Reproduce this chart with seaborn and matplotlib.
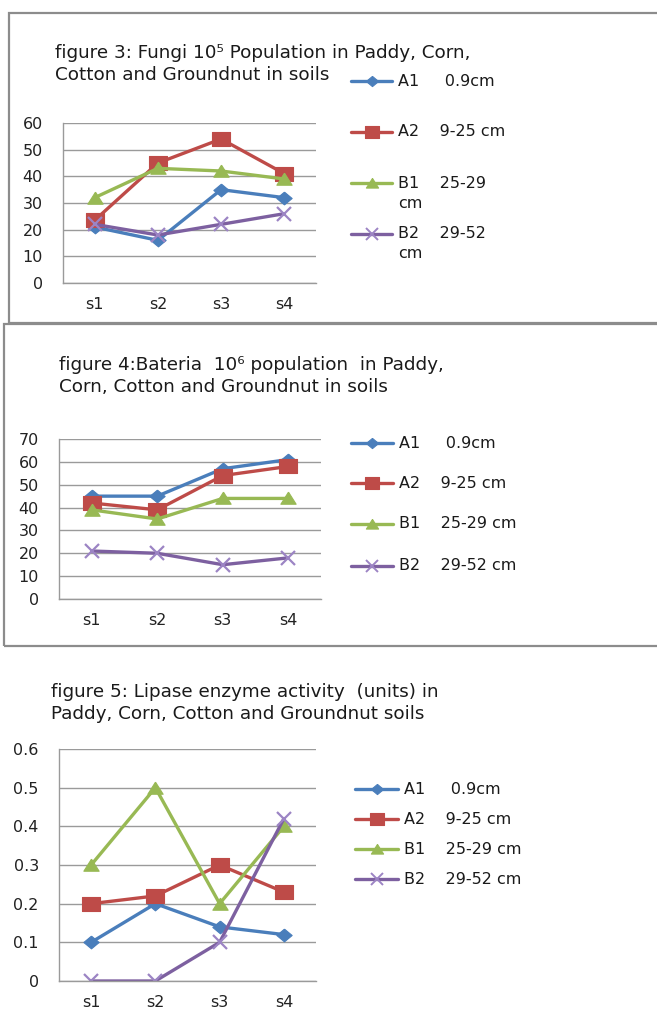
import matplotlib.pyplot as plt
import seaborn as sns
from matplotlib.lines import Line2D
from matplotlib.patches import Rectangle

# Datos
sites = ["s1", "s2", "s3", "s4"]
series = ["A1", "A2", "B1", "B2"]

fungi_a1 = [21, 16, 35, 32]
fungi_a2 = [23.5, 45, 54, 41]
fungi_b1 = [32, 43, 42, 39]
fungi_b2 = [22, 18, 22, 26]

bact_a1 = [45, 45, 57, 61]
bact_a2 = [42, 39, 54, 58]
bact_b1 = [39, 35, 44, 44]
bact_b2 = [21, 20, 15, 18]

lipase_a1 = [0.1, 0.2, 0.14, 0.12]
lipase_a2 = [0.2, 0.22, 0.3, 0.23]
lipase_b1 = [0.3, 0.5, 0.2, 0.4]
lipase_b2 = [0.0, 0.0, 0.1, 0.42]

fungi_ticks = [0, 10, 20, 30, 40, 50, 60]
bact_ticks = [0, 10, 20, 30, 40, 50, 60, 70]
lipase_ticks = [0, 0.1, 0.2, 0.3, 0.4, 0.5, 0.6]
lipase_tick_labels = ["0", "0.1", "0.2", "0.3", "0.4", "0.5", "0.6"]

labels_fig3 = ["A1     0.9cm", "A2    9-25 cm", "B1    25-29\ncm", "B2    29-52\ncm"]
labels_fig45 = ["A1     0.9cm", "A2    9-25 cm", "B1    25-29 cm", "B2    29-52 cm"]

title_fig3 = ["figure 3: Fungi 10\u2075 Population in Paddy, Corn,",
              "Cotton and Groundnut in soils"]
title_fig4 = ["figure 4:Bateria  10\u2076 population  in Paddy,",
              "Corn, Cotton and Groundnut in soils"]
title_fig5 = ["figure 5: Lipase enzyme activity  (units) in",
              "Paddy, Corn, Cotton and Groundnut soils"]

sns.set_style("white")
plt.rcParams["font.family"] = ["DejaVu Sans"]

W, H = 657, 1013
fig = plt.figure(figsize=(W / 100, H / 100), dpi=100)

colores = {"A1": "#4A7EBB", "A2": "#BE4B48", "B1": "#98B954", "B2": "#7D60A0"}
# marcadores algo estirados, como en la imagen original
marcadores = {
    "A1": [(0, 1), (1.2, 0), (0, -1), (-1.2, 0), (0, 1)],
    "A2": [(-1.25, -1), (1.25, -1), (1.25, 1), (-1.25, 1), (-1.25, -1)],
    "B1": [(0, 1), (1.2, -0.9), (-1.2, -0.9), (0, 1)],
    "B2": "x",
}
tamanos = {"A1": 11, "A2": 12.5, "B1": 11, "B2": 10}
GRIS = "#9A9A9A"


def fx(x):
    return x / W


def fy(y):
    return 1 - y / H


def borde(left, top, bottom):
    fig.add_artist(Rectangle((fx(left), fy(bottom)), 1.2, fy(top) - fy(bottom),
                             transform=fig.transFigure, fill=False,
                             edgecolor="#8C8C8C", linewidth=1.6))


def panel(box, valores, ylim, yticks, yticklabels, titulo, titulo_xy,
          etiquetas, leyenda_x, leyenda_y):
    left, top, right, bottom = box
    ax = fig.add_axes([fx(left), fy(bottom), fx(right - left), (bottom - top) / H])
    for nombre, vals in zip(series, valores):
        c = colores[nombre]
        if nombre == "B2":
            sns.lineplot(x=sites, y=vals, ax=ax, color=c, linewidth=2.4, sort=False,
                         marker="x", markersize=tamanos[nombre],
                         markeredgecolor="#9C84C4", markeredgewidth=1.6, legend=False)
        else:
            sns.lineplot(x=sites, y=vals, ax=ax, color=c, linewidth=2.4, sort=False,
                         marker=marcadores[nombre], markersize=tamanos[nombre],
                         markeredgecolor=c, markeredgewidth=0.8, legend=False)

    ax.set_xlim(-0.5, 3.5)
    ax.set_ylim(*ylim)
    ax.set_yticks(yticks)
    ax.set_yticklabels(yticklabels)
    ax.set_xticks([-0.5, 0.5, 1.5, 2.5, 3.5], minor=True)
    ax.set_xlabel("")
    ax.set_ylabel("")
    ax.grid(axis="y", color=GRIS, linewidth=1)
    ax.grid(axis="x", visible=False)
    for s in ["top", "right"]:
        ax.spines[s].set_visible(False)
    for s in ["left", "bottom"]:
        ax.spines[s].set_color(GRIS)
        ax.spines[s].set_linewidth(1)
    ax.tick_params(axis="y", which="major", length=4, color=GRIS, pad=10.5,
                   labelsize=11.5, labelcolor="#222222")
    ax.tick_params(axis="x", which="major", length=0, pad=10, labelsize=11.5,
                   labelcolor="#222222")
    ax.tick_params(axis="x", which="minor", length=4, color=GRIS, direction="out")
    ax.set_axisbelow(True)

    tx, ty = titulo_xy
    for i, linea in enumerate(titulo):
        fig.text(fx(tx), fy(ty + i * 22), linea, ha="left", va="center",
                 fontsize=13.2, color="#1A1A1A")

    x0, x1 = leyenda_x
    for i, nombre in enumerate(series):
        y = leyenda_y[i]
        c = colores[nombre]
        xs = [fx(x0), fx((x0 + x1) / 2), fx(x1)]
        if nombre == "B2":
            h = Line2D(xs, [fy(y)] * 3, transform=fig.transFigure,
                       color=c, linewidth=2.4, marker="x", markevery=[1],
                       markersize=tamanos[nombre] * 0.9, markeredgecolor="#9C84C4",
                       markeredgewidth=1.4)
        else:
            h = Line2D(xs, [fy(y)] * 3, transform=fig.transFigure, color=c,
                       linewidth=2.4, marker=marcadores[nombre], markevery=[1],
                       markersize=tamanos[nombre] * 0.8, markeredgecolor=c,
                       markeredgewidth=0.8)
        fig.add_artist(h)
        for j, linea in enumerate(etiquetas[i].split("\n")):
            fig.text(fx(x1 + 6), fy(y + j * 20), linea, ha="left", va="center",
                     fontsize=11.5, color="#1A1A1A")
    return ax


borde(9, 13, 323)
borde(4, 324, 646)

panel((63, 123, 316, 283), [fungi_a1, fungi_a2, fungi_b1, fungi_b2], (0, 60),
      fungi_ticks, [str(t) for t in fungi_ticks], title_fig3, (55, 53),
      labels_fig3, (351, 392), [81, 132, 183, 234])

panel((59, 439, 321, 599), [bact_a1, bact_a2, bact_b1, bact_b2], (0, 70),
      bact_ticks, [str(t) for t in bact_ticks], title_fig4, (59, 365),
      labels_fig45, (351, 393), [443, 483, 524, 566])

panel((59, 749, 316, 981), [lipase_a1, lipase_a2, lipase_b1, lipase_b2], (0, 0.6),
      lipase_ticks, lipase_tick_labels, title_fig5, (51, 692),
      labels_fig45, (355, 398), [789, 819, 849, 879])

fig.savefig("out.png", dpi=100)
